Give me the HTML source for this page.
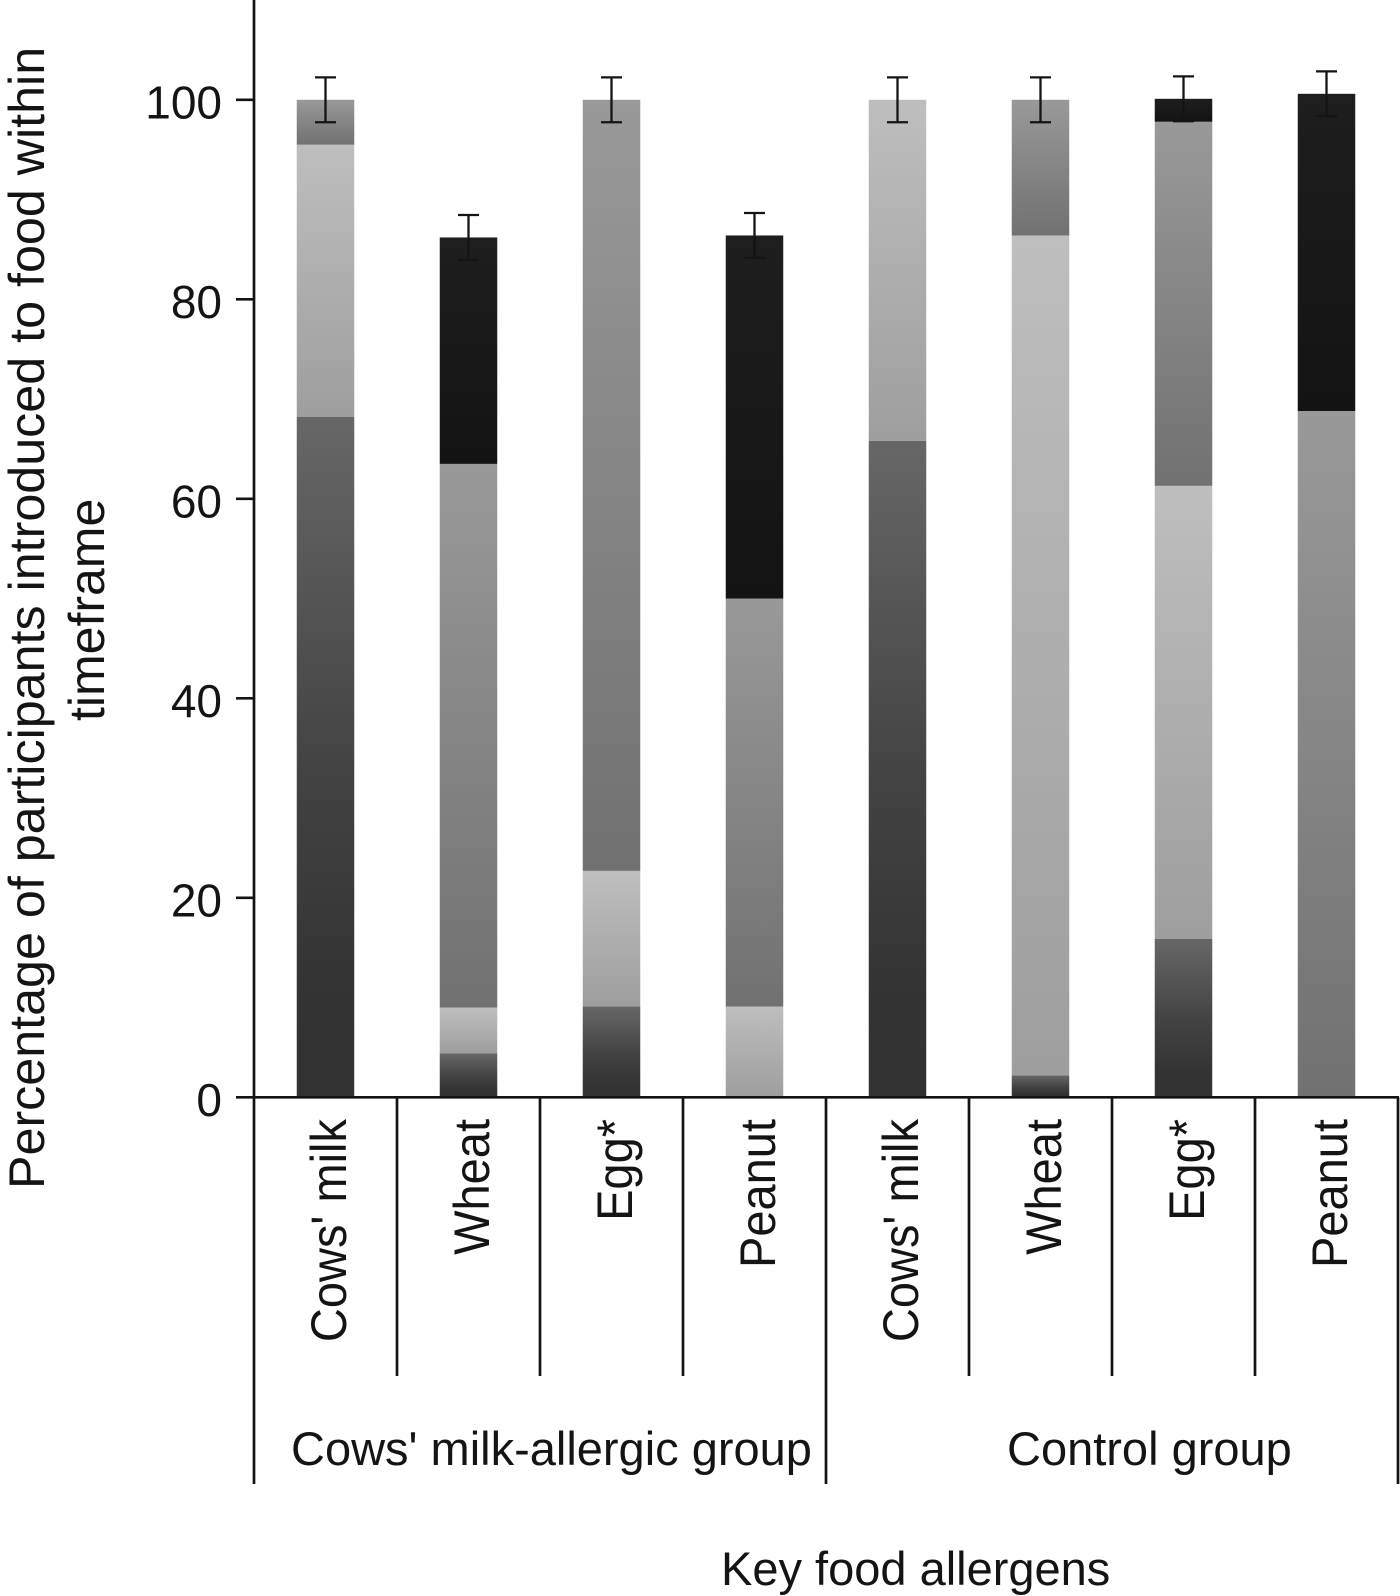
<!DOCTYPE html>
<html lang="en">
<head>
<meta charset="utf-8">
<title>Percentage of participants introduced to key food allergens</title>
<style>
  html, body { margin: 0; padding: 0; background: #fff; }
  svg { display: block; }
  text { font-family: "Liberation Sans", Arial, sans-serif; fill: #141414; }
</style>
</head>
<body>
<svg id="chart" xmlns="http://www.w3.org/2000/svg" width="1400" height="1596" viewBox="0 0 1400 1596">
  <defs>
    <linearGradient id="grad-dark" x1="0" y1="0" x2="0" y2="1"><stop offset="0" stop-color="#676767"/><stop offset="0.5" stop-color="#444444"/><stop offset="0.85" stop-color="#333333"/><stop offset="1" stop-color="#323232"/></linearGradient>
    <linearGradient id="grad-light" x1="0" y1="0" x2="0" y2="1"><stop offset="0" stop-color="#bebebe"/><stop offset="1" stop-color="#9e9e9e"/></linearGradient>
    <linearGradient id="grad-mid" x1="0" y1="0" x2="0" y2="1"><stop offset="0" stop-color="#999999"/><stop offset="1" stop-color="#717171"/></linearGradient>
    <linearGradient id="grad-black" x1="0" y1="0" x2="0" y2="1"><stop offset="0" stop-color="#1e1e1e"/><stop offset="1" stop-color="#131313"/></linearGradient>
  </defs>
  <g id="bars"></g>
  <g id="errors"></g>
  <g id="axes"></g>
  <g id="labels"></g>

  <text transform="translate(44,1189) rotate(-90) scale(1.005,1)" font-size="50">Percentage of participants introduced to food within</text>
  <text transform="translate(104,721) rotate(-90)" font-size="50">timeframe</text>
  <text transform="translate(291,1465)" font-size="47">Cows' milk-allergic group</text>
  <text transform="translate(1007,1465)" font-size="47">Control group</text>
  <text transform="translate(721,1585)" font-size="47">Key food allergens</text>
</svg>
<script>
const categories = ["Cows' milk", "Wheat", "Egg*", "Peanut", "Cows' milk", "Wheat", "Egg*", "Peanut"];
const darkValues = [68.2, 4.4, 9.1, 0, 65.8, 2.2, 15.9, 0];
const lightValues = [27.3, 4.6, 13.6, 9.1, 34.2, 84.2, 45.4, 0];
const midValues = [4.5, 54.5, 77.3, 40.9, 0, 13.6, 36.5, 68.8];
const blackValues = [0, 22.7, 0, 36.4, 0, 0, 2.3, 31.8];
const errorValues = [2.25, 2.25, 2.25, 2.25, 2.25, 2.25, 2.25, 2.25];
const yTicks = [0, 20, 40, 60, 80, 100];

const NS = 'http://www.w3.org/2000/svg';
const AXIS_COLOR = '#141414';

function yScale(v) { return 1097.3 - v * 9.975; }
function xCenter(i) { return 325.5 + i * 143; }
function xSeparator(i) { return 254 + i * 143; }

function make(parent, tag, attrs) {
  const el = document.createElementNS(NS, tag);
  for (const k in attrs) el.setAttribute(k, attrs[k]);
  parent.appendChild(el);
  return el;
}

const barsG = document.getElementById('bars');
const errorsG = document.getElementById('errors');
const axesG = document.getElementById('axes');
const labelsG = document.getElementById('labels');
const BAR_W = 57.5;
const CAP_W = 21;

const stack = [
  { key: 'dark', values: darkValues },
  { key: 'light', values: lightValues },
  { key: 'mid', values: midValues },
  { key: 'black', values: blackValues }
];

categories.forEach(function (cat, i) {
  let base = 0;
  stack.forEach(function (s) {
    const v = s.values[i];
    if (v > 0) {
      const top = yScale(base + v);
      const rect = make(barsG, 'rect', {
        x: xCenter(i) - BAR_W / 2,
        y: top,
        width: BAR_W,
        height: yScale(base) - top,
        fill: 'url(#grad-' + s.key + ')'
      });
      
      
    }
    base += v;
  });

  const cx = xCenter(i);
  const yHigh = yScale(base + errorValues[i]);
  const yLow = yScale(base - errorValues[i]);
  const stem = make(errorsG, 'line', { x1: cx, x2: cx, y1: yHigh, y2: yLow, stroke: AXIS_COLOR, 'stroke-width': 2.3 });
  
  
  const capTop = make(errorsG, 'line', { x1: cx - CAP_W / 2, x2: cx + CAP_W / 2, y1: yHigh, y2: yHigh, stroke: AXIS_COLOR, 'stroke-width': 2.3 });
  
  
  const capBottom = make(errorsG, 'line', { x1: cx - CAP_W / 2, x2: cx + CAP_W / 2, y1: yLow, y2: yLow, stroke: AXIS_COLOR, 'stroke-width': 2.3 });
  
  

  const label = make(labelsG, 'text', {
    transform: 'translate(' + (cx + 20.4) + ',1119) rotate(-90) scale(0.94,1)',
    'font-size': 50,
    'text-anchor': 'end'
  });
  label.textContent = cat;
  
  
});

const yAxis = make(axesG, 'line', { x1: 254, x2: 254, y1: 0, y2: 1484, stroke: AXIS_COLOR, 'stroke-width': 2.7 });



const xAxis = make(axesG, 'line', { x1: 254, x2: 1399, y1: yScale(0), y2: yScale(0), stroke: AXIS_COLOR, 'stroke-width': 2.7 });



for (let i = 1; i <= categories.length; i++) {
  const isGroupEdge = i % 4 === 0;
  const sep = make(axesG, 'line', {
    x1: xSeparator(i), x2: xSeparator(i),
    y1: yScale(0), y2: isGroupEdge ? 1484 : 1376,
    stroke: AXIS_COLOR, 'stroke-width': 2.7
  });
  
  
}

yTicks.forEach(function (t) {
  const tick = make(axesG, 'line', { x1: 236, x2: 254, y1: yScale(t), y2: yScale(t), stroke: AXIS_COLOR, 'stroke-width': 2.7 });
  
  
  const tickLabel = make(labelsG, 'text', {
    x: 222,
    y: yScale(t) + 18.5,
    'font-size': 46,
    'text-anchor': 'end'
  });
  tickLabel.textContent = String(t);
  
  
});
</script>
</body>
</html>
